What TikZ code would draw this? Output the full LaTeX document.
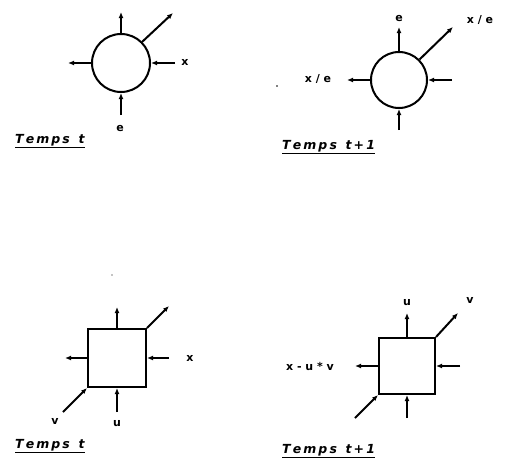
\documentclass[tikz,border=0pt]{standalone}
\usepackage{fontspec}
\setsansfont{DejaVu Sans}
\usetikzlibrary{arrows.meta}
\begin{document}
\begin{tikzpicture}[x=1pt,y=-1pt,
  flow/.style={line width=2pt,-{Latex[length=6pt,width=5pt]}},
  cell/.style={draw,line width=2pt,inner sep=0pt},
  lbl/.style={font=\sffamily\bfseries\fontsize{11}{13}\selectfont,inner sep=1pt},
  tlbl/.style={font=\sffamily\bfseries\itshape\fontsize{12.5}{14}\selectfont,inner sep=1pt,anchor=west}]
\useasboundingbox (0,0) rectangle (507,458);
% ---- top-left: circle at time t
\node[cell,circle,minimum size=58pt] (c1) at (121,63) {};
\coordinate (c1up) at (121,12);
\coordinate (c1left) at (68,63);
\coordinate (c1diag) at (173,13);
\coordinate (c1right) at (175,63);
\coordinate (c1bot) at (121,115);
\draw[flow] (c1.north) -- (c1up);
\draw[flow] (c1.west) -- (c1left);
\draw[flow] (c1.north east) -- (c1diag);
\draw[flow] (c1right) -- (c1.east);
\draw[flow] (c1bot) -- (c1.south);
\node[lbl] (c1x) at (185,62) {x};
\node[lbl] (c1e) at (120,128) {e};
\node[tlbl] (t1) at (14,141) {\underline{T\,e\,m\,p\,s\ \ t}};
% ---- top-right: circle at time t+1
\node[cell,circle,minimum size=56pt] (c2) at (399,80) {};
\coordinate (c2up) at (399,27);
\coordinate (c2left) at (347,80);
\coordinate (c2diag) at (453,27);
\coordinate (c2right) at (452,80);
\coordinate (c2bot) at (399,130);
\draw[flow] (c2.north) -- (c2up);
\draw[flow] (c2.west) -- (c2left);
\draw[flow] (c2.north east) -- (c2diag);
\draw[flow] (c2right) -- (c2.east);
\draw[flow] (c2bot) -- (c2.south);
\node[lbl] (c2e) at (399,18) {e};
\node[lbl] (c2xe) at (480,20) {x\ /\ e};
\node[lbl] (c2xl) at (318,79) {x\ /\ e};
\fill (277,86) circle (0.8pt);
\node[tlbl] (t2) at (281,147) {\underline{T\,e\,m\,p\,s\ \ t\,+\,1}};
% ---- bottom-left: square at time t
\node[cell,rectangle,minimum size=58pt] (s1) at (117,358) {};
\coordinate (s1up) at (117,307);
\coordinate (s1left) at (65,358);
\coordinate (s1diag) at (169,306);
\coordinate (s1right) at (169,358);
\coordinate (s1bot) at (117,412);
\coordinate (s1in) at (63,412);
\draw[flow] (s1.north) -- (s1up);
\draw[flow] (s1.west) -- (s1left);
\draw[flow] (s1.north east) -- (s1diag);
\draw[flow] (s1right) -- (s1.east);
\draw[flow] (s1bot) -- (s1.south);
\draw[flow] (s1in) -- (s1.south west);
\node[lbl] (s1x) at (190,358) {x};
\node[lbl] (s1u) at (117,424) {u};
\node[lbl] (s1v) at (55,421) {v};
\fill (112,275) circle (0.6pt);
\node[tlbl] (t3) at (14,446) {\underline{T\,e\,m\,p\,s\ \ t}};
% ---- bottom-right: square at time t+1
\node[cell,rectangle,minimum size=56pt] (s2) at (407,366) {};
\coordinate (s2up) at (407,313);
\coordinate (s2left) at (355,366);
\coordinate (s2diag) at (458,313);
\coordinate (s2right) at (460,366);
\coordinate (s2bot) at (407,418);
\coordinate (s2in) at (355,418);
\draw[flow] (s2.north) -- (s2up);
\draw[flow] (s2.west) -- (s2left);
\draw[flow] (s2.north east) -- (s2diag);
\draw[flow] (s2right) -- (s2.east);
\draw[flow] (s2bot) -- (s2.south);
\draw[flow] (s2in) -- (s2.south west);
\node[lbl] (s2u) at (407,303) {u};
\node[lbl] (s2v) at (470,300) {v};
\node[lbl] (s2l) at (310,366) {x\ -\ u\ *\ v};
\node[tlbl] (t4) at (281,451) {\underline{T\,e\,m\,p\,s\ \ t\,+\,1}};
\end{tikzpicture}
\end{document}
